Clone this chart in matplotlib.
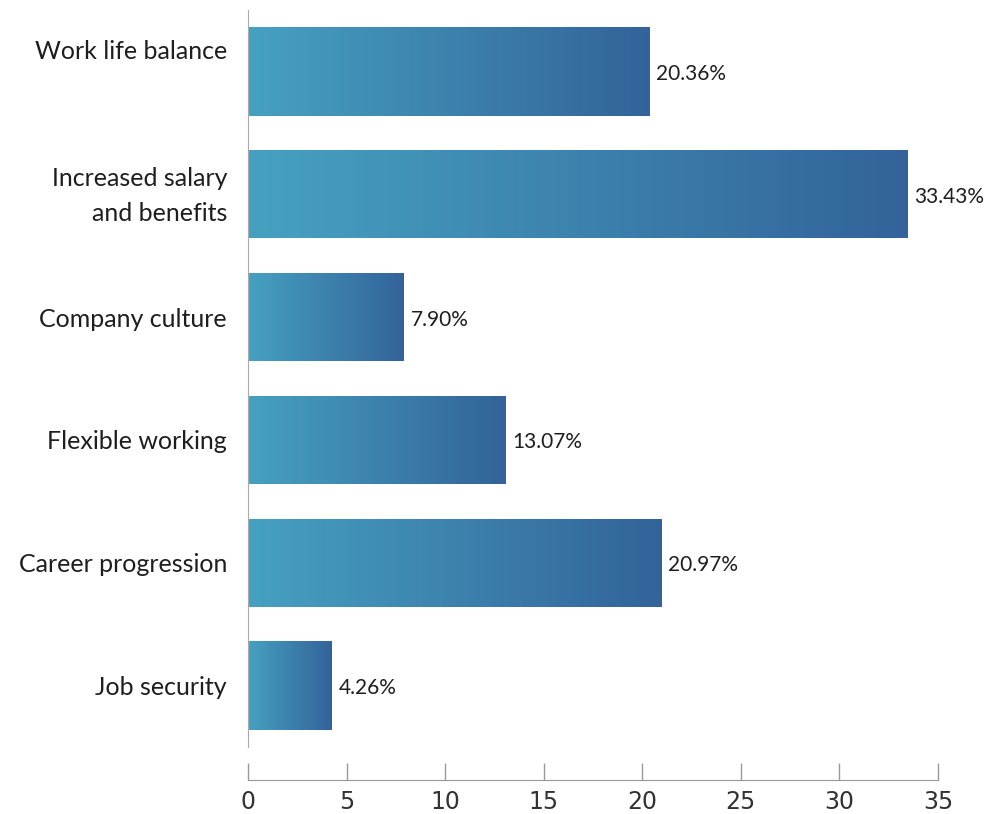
import numpy as np
import matplotlib
matplotlib.use("Agg")
import matplotlib.pyplot as plt
from matplotlib.colors import LinearSegmentedColormap
from matplotlib.transforms import ScaledTranslation

categories = ["Work life balance", "Increased salary\nand benefits", "Company culture",
              "Flexible working", "Career progression", "Job security"]
values = [20.36, 33.43, 7.90, 13.07, 20.97, 4.26]
value_labels = ["20.36%", "33.43%", "7.90%", "13.07%", "20.97%", "4.26%"]
x_ticks = [0, 5, 10, 15, 20, 25, 30, 35]

grad = LinearSegmentedColormap.from_list("bar_grad", ["#46a1c1", "#33639a"])

fig = plt.figure(figsize=(9.99, 8.14), dpi=100)
ax = fig.add_axes([0.2482, 0.0823, 0.9389 - 0.2482, 0.9877 - 0.0823])

y = np.arange(len(categories))
bars = ax.barh(y, values, height=0.72, color="none", edgecolor="none")

# fill every bar with its own left-to-right gradient
ramp = np.linspace(0, 1, 256).reshape(1, -1)
for bar in bars:
    x0, y0 = bar.get_x(), bar.get_y()
    w, h = bar.get_width(), bar.get_height()
    img = ax.imshow(ramp, cmap=grad, aspect="auto", interpolation="bicubic",
                    extent=[x0, x0 + w, y0 + h, y0], zorder=2)
    img.set_clip_path(bar)

for yi, v, lab in zip(y, values, value_labels):
    ax.text(v + 0.35, yi + 0.02, lab, va="center", ha="left",
            fontsize=15, family="Lato", color="#1e1e1e")

ax.set_xlim(0, 35)
ax.set_ylim(len(categories) - 0.5, -0.5)
ax.set_xticks(x_ticks)
ax.set_yticks(y)
ax.tick_params(axis="y", length=0, pad=15, labelsize=18, labelcolor="#1e1e1e")
ax.tick_params(axis="x", direction="in", length=12.2, width=1, color="#999999",
               pad=7, labelsize=17, labelcolor="#333333")
ax.set_yticklabels(categories, family="Lato", linespacing=1.6)
ax.set_xticklabels([str(t) for t in x_ticks], family="Open Sans")

# nudge the first two labels upward
ylabs = ax.get_yticklabels()
for lab, dy in zip(ylabs[:2], [0.22, 0.06]):
    lab.set_transform(lab.get_transform() +
                      ScaledTranslation(0, dy, fig.dpi_scale_trans))

for s in ["top", "right"]:
    ax.spines[s].set_visible(False)
ax.spines["left"].set_color("#aaaaaa")
ax.spines["bottom"].set_color("#999999")
ax.spines["bottom"].set_position(("outward", 23.8))

fig.savefig("out.png", dpi=100)
